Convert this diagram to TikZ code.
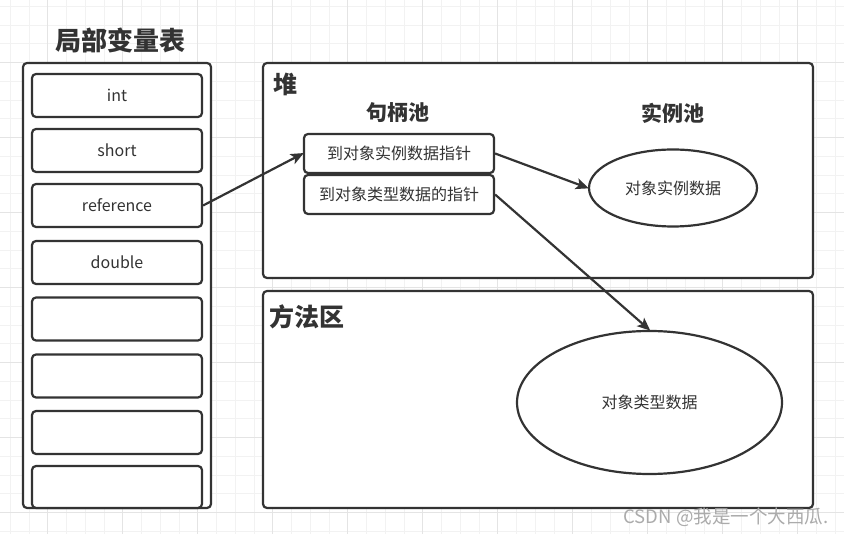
\documentclass[tikz,border=0pt]{standalone}
\usepackage{fontspec}
\setmainfont{Noto Sans CJK SC}
\usetikzlibrary{arrows.meta,shapes.geometric}
\definecolor{ink}{HTML}{333333}
\definecolor{gridminor}{HTML}{F2F2F2}
\definecolor{gridmajor}{HTML}{E4E4E4}
\definecolor{wm}{HTML}{ABABAB}
\tikzset{
  box/.style={draw=ink, line width=2.2pt, fill=white, rounded corners=4pt, rectangle, inner sep=0pt, text=ink},
  ell/.style={draw=ink, line width=2.2pt, fill=white, ellipse, inner sep=0pt, text=ink},
  lbl/.style={font=\fontsize{16}{18}\selectfont},
  ttl/.style={text=ink, inner sep=0pt, font=\bfseries\fontsize{#1}{#1}\selectfont},
  conn/.style={draw=ink, line width=2.2pt, -{Stealth[length=13pt,width=11pt,inset=3pt]}, shorten >=-1pt}
}
\begin{document}
\begin{tikzpicture}[x=1pt,y=-1pt]
\useasboundingbox (0,0) rectangle (844,534);
\fill[white] (0,0) rectangle (844,534);
% grid
\foreach \i in {0,...,44} \draw[gridminor, line width=0.8pt] ({10.2+18.75*\i},0) -- ({10.2+18.75*\i},534);
\foreach \j in {0,...,28} \draw[gridminor, line width=0.8pt] (0,{6.2+18.75*\j}) -- (844,{6.2+18.75*\j});
\foreach \i in {0,...,10} \draw[gridmajor, line width=0.8pt] ({47.7+75*\i},0) -- ({47.7+75*\i},534);
\foreach \j in {0,...,6} \draw[gridmajor, line width=0.8pt] (0,{62.7+75*\j}) -- (844,{62.7+75*\j});

% local variable table
\node[ttl=26] (lvtitle) at (120,40) {局部变量表};
\node[box, minimum width=188pt, minimum height=445pt] (lvt) at (117,285.5) {};
\node[box, lbl, minimum width=170pt, minimum height=43pt] (vint) at (117,95.5) {int};
\node[box, lbl, minimum width=170pt, minimum height=43pt] (vshort) at (117,150.5) {short};
\node[box, lbl, minimum width=170pt, minimum height=43pt] (vref) at (117,205.5) {reference};
\node[box, lbl, minimum width=170pt, minimum height=43pt] (vdouble) at (117,262.5) {double};
\node[box, minimum width=170pt, minimum height=43pt] (ve1) at (117,319) {};
\node[box, minimum width=170pt, minimum height=43pt] (ve2) at (117,376) {};
\node[box, minimum width=170pt, minimum height=43pt] (ve3) at (117,432.5) {};
\node[box, minimum width=170pt, minimum height=42pt] (ve4) at (117,487) {};

% heap
\node[box, minimum width=550pt, minimum height=215pt] (heap) at (538,170.5) {};
\node[ttl=24] (heaptitle) at (285,84) {堆};
\node[ttl=21] (hpool) at (398,113) {句柄池};
\node[ttl=21] (ipool) at (673,113) {实例池};
\node[box, lbl, minimum width=190pt, minimum height=39pt] (h1) at (399,153.5) {到对象实例数据指针};
\node[box, lbl, minimum width=190pt, minimum height=39pt] (h2) at (399,194.5) {到对象类型数据的指针};
\node[ell, lbl, minimum width=168pt, minimum height=77pt] (inst) at (673,188) {对象实例数据};

% method area
\node[box, minimum width=550pt, minimum height=217pt] (method) at (538,399.5) {};
\node[ttl=25] (mtitle) at (307,317) {方法区};
\node[ell, lbl, minimum width=265pt, minimum height=143pt] (type) at (649.5,402.5) {对象类型数据};

% connectors
\draw[conn] (vref.east) -- (h1.west);
\draw[conn] (h1.east) -- (inst.west);
\draw[conn] (h2.east) -- (type.north);

% watermark
\node[text=wm, inner sep=0pt, font=\fontsize{18.5}{20}\selectfont] (wmark) at (726,517) {CSDN @我是一个大西瓜.};
\end{tikzpicture}
\end{document}
